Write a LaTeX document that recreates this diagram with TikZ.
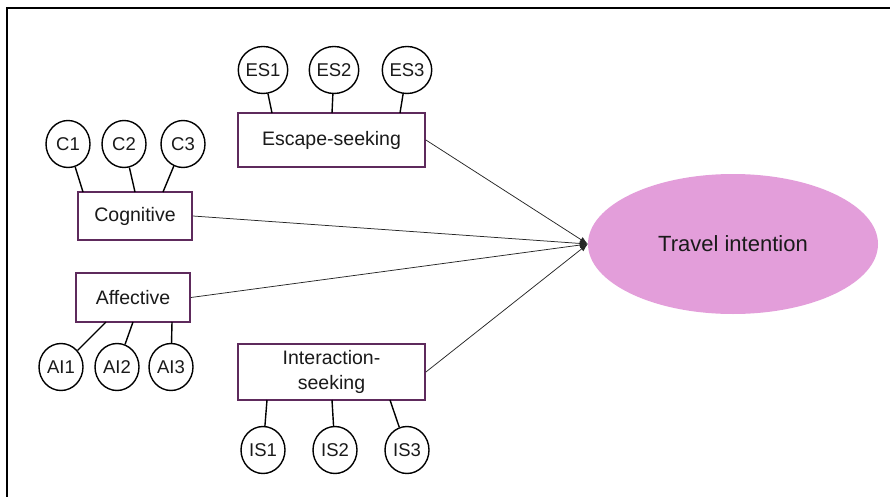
\documentclass[tikz,border=0pt]{standalone}
\usepackage{fontspec}
\setmainfont{Liberation Sans}
\usetikzlibrary{shapes.geometric,arrows.meta}
\definecolor{boxline}{HTML}{5E2A5C}
\definecolor{goalfill}{HTML}{E39EDA}
\definecolor{ink}{HTML}{1A1A1A}
\tikzset{
  construct/.style={draw=boxline, line width=1.8pt, fill=white, rectangle,
    inner sep=0pt, align=center, text=ink, font=\fontsize{19.5}{25}\selectfont},
  item/.style={draw=black, line width=1.4pt, ellipse, fill=white,
    minimum width=44pt, minimum height=47pt, inner sep=0pt, text=ink,
    font=\fontsize{18.5}{20}\selectfont},
  goal/.style={ellipse, fill=goalfill, draw=none, minimum width=290pt,
    minimum height=140pt, text=ink, font=\fontsize{22}{26}\selectfont},
  loading/.style={draw=black, line width=1.4pt},
  path/.style={draw=black!85, line width=0.75pt, -{Latex[length=8pt,width=6pt]}},
}
\begin{document}
\begin{tikzpicture}[x=1pt,y=-1pt]
\useasboundingbox (0,0) rectangle (890,497);
% frame edges
\draw[line width=2pt] (7,497) -- (7,8) -- (890,8);

% constructs
\node[construct, minimum width=187pt, minimum height=54pt] (esc) at (331.5,140) {Escape-seeking};
\node[construct, minimum width=114pt, minimum height=48pt] (cog) at (135,216) {Cognitive};
\node[construct, minimum width=114pt, minimum height=49pt] (aff) at (133,297.5) {Affective};
\node[construct, minimum width=187pt, minimum height=56pt] (int) at (331.5,372) {Interaction-\\seeking};
\node[goal] (ti) at (733,244) {Travel intention};

% indicators
\node[item] (es1) at (263,70) {ES1};
\node[item] (es2) at (334,70) {ES2};
\node[item] (es3) at (407,70) {ES3};
\node[item] (c1) at (68,144) {C1};
\node[item] (c2) at (124,144) {C2};
\node[item] (c3) at (183,144) {C3};
\node[item] (ai1) at (61,367) {AI1};
\node[item] (ai2) at (117,367) {AI2};
\node[item] (ai3) at (171,367) {AI3};
\node[item] (is1) at (263,450) {IS1};
\node[item] (is2) at (335,450) {IS2};
\node[item] (is3) at (407,450) {IS3};

% loadings
\coordinate (esa) at (272,113);
\coordinate (esb) at (332,113);
\coordinate (esc3) at (400,113);
\draw[loading] (es1) -- (esa);
\draw[loading] (es2) -- (esb);
\draw[loading] (es3) -- (esc3);
\coordinate (cga) at (83,192);
\coordinate (cgb) at (135,192);
\coordinate (cgc) at (163,192);
\draw[loading] (c1) -- (cga);
\draw[loading] (c2) -- (cgb);
\draw[loading] (c3) -- (cgc);
\coordinate (afa) at (106,322);
\coordinate (afb) at (133,322);
\coordinate (afc) at (172,322);
\draw[loading] (ai1) -- (afa);
\draw[loading] (ai2) -- (afb);
\draw[loading] (ai3) -- (afc);
\coordinate (ina) at (267,400);
\coordinate (inb) at (332,400);
\coordinate (inc) at (390,400);
\draw[loading] (is1) -- (ina);
\draw[loading] (is2) -- (inb);
\draw[loading] (is3) -- (inc);

% structural paths
\draw[path] (esc.east) -- (ti.west);
\draw[path] (cog.east) -- (ti.west);
\draw[path] (aff.east) -- (ti.west);
\draw[path] (int.east) -- (ti.west);
\end{tikzpicture}
\end{document}
